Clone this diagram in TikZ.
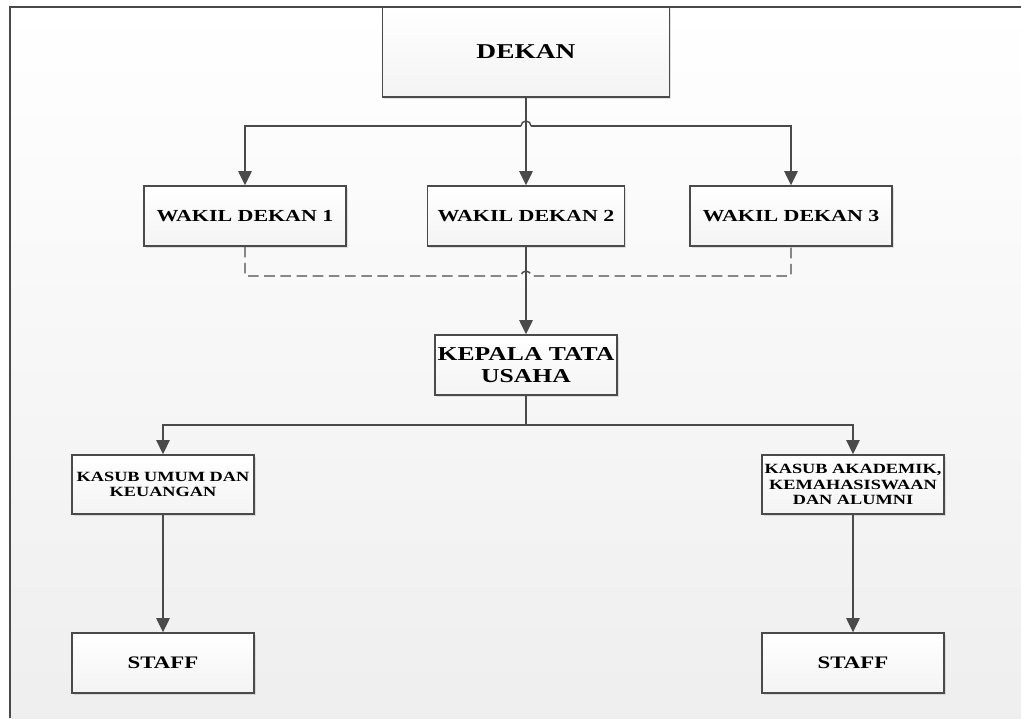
\documentclass[tikz,border=0pt]{standalone}
\usepackage{fontspec}
\setmainfont{Liberation Serif}[FakeStretch=1.3]
\usepackage{xcolor}
\usetikzlibrary{arrows.meta,shadows,calc}
\definecolor{linegray}{HTML}{4a4a4a}

\begin{document}
\begin{tikzpicture}[x=0.025cm, y=-0.025cm,
    box/.style={draw=linegray, line width=1pt, top color=white, bottom color=gray!9, align=center, inner sep=2pt,
      drop shadow={shadow xshift=1.2pt, shadow yshift=-1.2pt, opacity=0.22, fill=gray}},
    conn/.style={line width=1pt, draw=linegray},
    arr/.style={conn, -{Triangle[width=9.5pt,length=10pt]}},
    dashline/.style={conn, dash pattern=on 7.5pt off 4pt}
  ]
    \useasboundingbox (0,0) rectangle (1021,718);
    \fill[top color=white, bottom color=gray!13] (10,7) rectangle (1021,718);
    \draw[linegray, line width=0.8pt] (10,718) -- (10,7) -- (1021,7);

    \node[box, minimum width=7.18cm, minimum height=2.25cm, font=\bfseries\fontsize{15}{17}\selectfont] (dekan) at (526,52) {DEKAN};
    \node[box, minimum width=5.05cm, minimum height=1.5cm, font=\bfseries\fontsize{12}{14}\selectfont] (wd1) at (245,216) {WAKIL DEKAN 1};
    \node[box, minimum width=4.93cm, minimum height=1.5cm, font=\bfseries\fontsize{12}{14}\selectfont] (wd2) at (526,216) {WAKIL DEKAN 2};
    \node[box, minimum width=5.05cm, minimum height=1.5cm, font=\bfseries\fontsize{12}{14}\selectfont] (wd3) at (791,216) {WAKIL DEKAN 3};
    \node[box, minimum width=4.55cm, minimum height=1.5cm, font=\bfseries\fontsize{14}{15.5}\selectfont] (ktu) at (526,365) {KEPALA TATA\\USAHA};
    \node[box, minimum width=4.55cm, minimum height=1.48cm, font=\bfseries\fontsize{10}{11}\selectfont] (kasub1) at (163,484.5) {KASUB UMUM DAN\\KEUANGAN};
    \node[box, minimum width=4.55cm, minimum height=1.48cm, font=\bfseries\fontsize{10}{11}\selectfont] (kasub2) at (853,484.5) {KASUB AKADEMIK,\\KEMAHASISWAAN\\DAN ALUMNI};
    \node[box, minimum width=4.55cm, minimum height=1.5cm, font=\bfseries\fontsize{12.5}{14}\selectfont] (staff1) at (163,663) {STAFF};
    \node[box, minimum width=4.55cm, minimum height=1.5cm, font=\bfseries\fontsize{12.5}{14}\selectfont] (staff2) at (853,663) {STAFF};

    \coordinate (topbus) at (526,126);
    \coordinate (dashbus) at (526,276);
    \coordinate (lowbus) at (526,425);

    \draw[arr] (dekan) -- (wd2);
    \draw[conn] ($(topbus)+(-5,0)$) arc[start angle=180, end angle=0, radius=0.125cm];
    \draw[arr] ($(topbus)+(-5,0)$) -| (wd1.north);
    \draw[arr] ($(topbus)+(5,0)$) -| (wd3.north);

    \draw[dashline] (wd1.south) |- ($(dashbus)+(-5,0)$) arc[start angle=180, end angle=0, radius=0.125cm] -| (wd3.south);
    \draw[arr] (wd2) -- (ktu);

    \draw[conn] (ktu.south) -- (lowbus);
    \foreach \k in {kasub1, kasub2}
      \draw[arr] (lowbus) -| (\k.north);
    \foreach \i/\j in {kasub1/staff1, kasub2/staff2}
      \draw[arr] (\i) -- (\j);
  \end{tikzpicture}
\end{document}
